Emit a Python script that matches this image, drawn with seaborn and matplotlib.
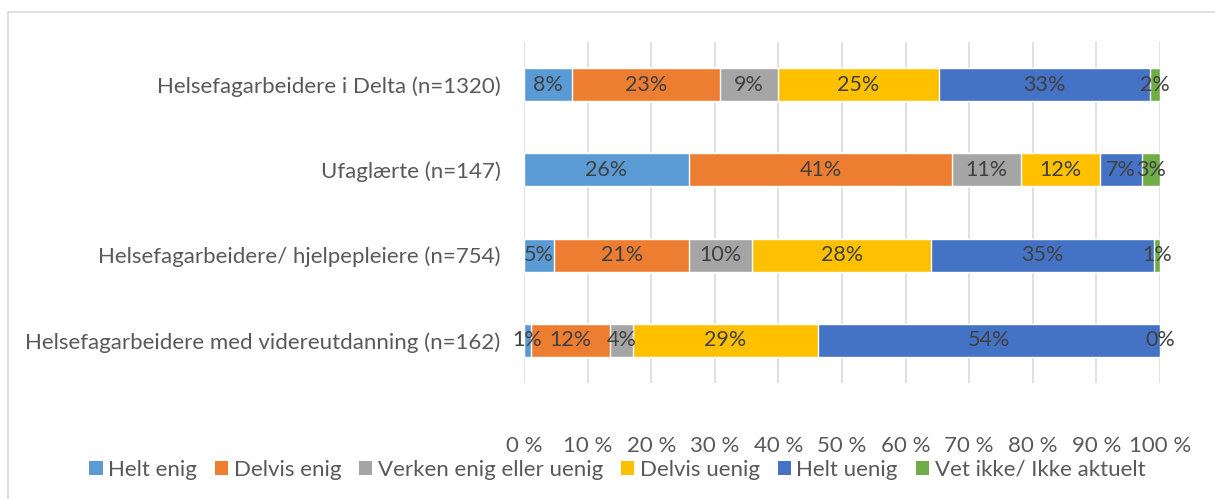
import matplotlib.pyplot as plt
import seaborn as sns
import pandas as pd
import numpy as np
from matplotlib.patches import Rectangle, Patch

categories = [
    "Helsefagarbeidere i Delta (n=1320)",
    "Ufaglærte (n=147)",
    "Helsefagarbeidere/ hjelpepleiere (n=754)",
    "Helsefagarbeidere med videreutdanning (n=162)",
]
series = ["Helt enig", "Delvis enig", "Verken enig eller uenig",
          "Delvis uenig", "Helt uenig", "Vet ikke/ Ikke aktuelt"]
helt_enig = [7.6, 25.9, 4.7, 1.1]
delvis_enig = [23.2, 41.4, 21.3, 12.4]
verken = [9.1, 10.8, 9.9, 3.6]
delvis_uenig = [25.4, 12.4, 28.1, 29.1]
helt_uenig = [33.1, 6.7, 35.0, 53.8]
vet_ikke = [1.6, 2.8, 1.0, 0.0]
colors = ["#5B9BD5", "#ED7D31", "#A5A5A5", "#FFC000", "#4472C4", "#70AD47"]
ticks = [0, 10, 20, 30, 40, 50, 60, 70, 80, 90, 100]

sns.set_style("white")
plt.rcParams["font.family"] = ["Lato", "DejaVu Sans"]
TXT = "#595959"
FS = 16

df = pd.DataFrame({"kategori": categories, **dict(zip(series, [helt_enig, delvis_enig, verken,
                                                                delvis_uenig, helt_uenig, vet_ikke]))})
cum = df[series].cumsum(axis=1)

fig = plt.figure(figsize=(12.15, 4.99), dpi=100)
ax = fig.add_axes([524 / 1215, 1 - 383 / 499, (1160 - 524) / 1215, (383 - 42) / 499])

# stacked bars: draw cumulative totals from the largest down
for s, c in reversed(list(zip(series, colors))):
    sns.barplot(x=cum[s], y=df["kategori"], color=c, orient="h", width=0.39,
                saturation=1, ax=ax, zorder=2)

for i, row in df.iterrows():
    for s in series:
        v = row[s]
        mid = cum.loc[i, s] - v / 2
        ax.text(mid, i, f"{v:.0f}%", ha="center", va="center", fontsize=15.5, color="#404040", zorder=3)

ax.set_xlim(0, 100)
ax.set_xticks(ticks)
ax.set_xticklabels([f"{t} %" for t in ticks])
ax.set_xlabel("")
ax.set_ylabel("")
ax.grid(axis="x", color="#D9D9D9", linewidth=1.1, zorder=0)
for sp in ax.spines.values():
    sp.set_visible(False)
ax.tick_params(axis="x", length=0, pad=38, labelsize=FS, labelcolor=TXT)
ax.tick_params(axis="y", length=0, pad=17, labelsize=FS, labelcolor=TXT)

handles = [Patch(facecolor=c, edgecolor="none") for c in colors]
fig.legend(handles, series, loc="center", bbox_to_anchor=(0.508, 1 - 470 / 499), ncol=6,
           frameon=False, fontsize=FS, labelcolor=TXT, handlelength=0.6, handleheight=0.6,
           handletextpad=0.25, columnspacing=0.8)

fig.patches.append(Rectangle((8 / 1215, -0.1), 1.2, 1.1 - 12 / 499, transform=fig.transFigure,
                             fill=False, edgecolor="#D9D9D9", linewidth=1.2))

fig.savefig("out.png", dpi=100)
